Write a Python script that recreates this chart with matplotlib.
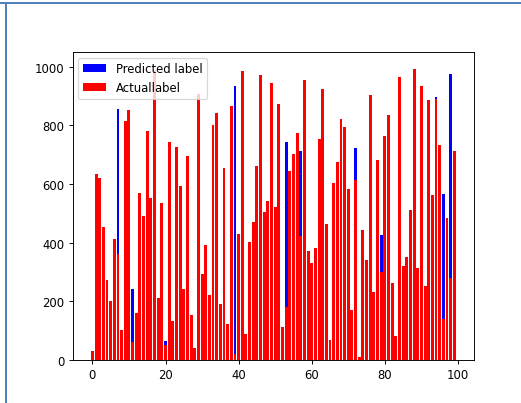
import numpy as np
import matplotlib
matplotlib.use("Agg")
import matplotlib.pyplot as plt
from matplotlib.patches import Rectangle

# valores reales (rojo), indices 0..99
actual = [30, 634, 622, 452, 272, 201, 412, 363, 101, 815,
          853, 62, 160, 571, 491, 782, 551, 990, 213, 534,
          50, 743, 133, 725, 593, 241, 695, 152, 41, 908,
          292, 391, 221, 801, 841, 192, 653, 122, 866, 22,
          431, 984, 90, 403, 472, 662, 973, 504, 542, 944,
          522, 873, 113, 181, 643, 703, 774, 423, 953, 372,
          331, 382, 754, 925, 463, 69, 603, 675, 823, 794,
          584, 172, 614, 10, 443, 341, 904, 232, 683, 300,
          763, 834, 261, 81, 965, 321, 352, 511, 993, 312,
          934, 253, 885, 563, 890, 734, 141, 484, 281, 713]

# predicciones: donde no se ven, iguales a los reales
predicted = list(actual)
predicted_visible = {7: 857, 11: 243, 20: 65, 39: 935, 53: 743, 57: 713,
                     72: 724, 79: 425, 94: 897, 96: 567, 98: 976}
for i, v in predicted_visible.items():
    predicted[i] = v

x = np.arange(len(actual))

fig = plt.figure(figsize=(6.264, 4.848), dpi=83.333)
ax = fig.add_axes([72.7 / 522, 43 / 404, (474 - 72.7) / 522, (361 - 53) / 404])

ax.bar(x, predicted, color="blue", label="Predicted label")
ax.bar(x, actual, color="red", label="Actuallabel")
ax.set_ylim(0, 1050)
ax.legend(loc="upper left")

# marco azul de la captura
fig.add_artist(Rectangle((0, 1 - 5 / 404), 1, 2.5 / 404, transform=fig.transFigure,
                         color="#4f81bd", lw=0))
fig.add_artist(Rectangle((5 / 522, 0), 2.5 / 522, 1 - 3 / 404, transform=fig.transFigure,
                         color="#4f81bd", lw=0))

fig.savefig("out.png", dpi=83.333)
